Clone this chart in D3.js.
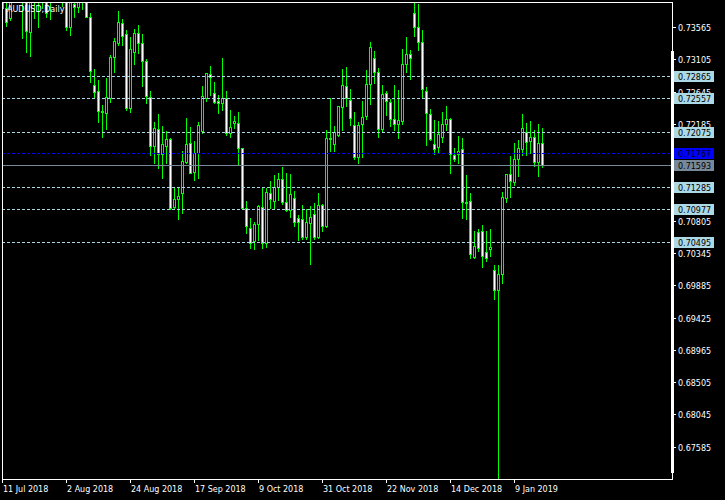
<!DOCTYPE html>
<html><head><meta charset="utf-8">
<script src="https://cdn.jsdelivr.net/npm/d3@7"></script>
<style>
html,body{margin:0;padding:0;background:#000;}
svg{display:block;}
text{font-family:"DejaVu Sans",sans-serif;font-size:8px;}
</style></head>
<body>
<div id="chart"></div>
<script>
// ---- data (AUDUSD daily, bar index 0 = 11 Jul 2018) ----
const open = [0.74164,0.73836,0.73694,0.74164,0.74378,0.74093,0.74021,0.73494,0.74021,0.74164,
0.73993,0.74093,0.73950,0.74064,0.74235,0.74093,0.73950,0.73561,0.73893,0.73850,
0.74021,0.74093,0.73703,0.72739,0.72653,0.72368,0.72344,0.72549,0.73133,0.73342,
0.73618,0.73461,0.72415,0.73205,0.73475,0.73333,0.73081,0.72572,0.71874,0.72108,
0.71751,0.71874,0.71965,0.71000,0.71110,0.71196,0.71646,0.71908,0.71503,0.71765,
0.72088,0.72549,0.72896,0.72620,0.72511,0.72478,0.72549,0.72050,0.72193,0.72193,
0.71837,0.70990,0.70697,0.70520,0.70754,0.70996,0.70483,0.71204,0.71090,0.71290,
0.71395,0.71076,0.70958,0.71124,0.70839,0.70825,0.70568,0.70777,0.70901,0.70577,
0.71029,0.70734,0.71965,0.71894,0.72026,0.72421,0.72725,0.72525,0.72169,0.71717,
0.72179,0.72301,0.72749,0.73119,0.72920,0.72112,0.72620,0.72492,0.72250,0.72183,
0.72230,0.73034,0.73176,0.73760,0.73561,0.73356,0.72658,0.72321,0.71894,0.71860,
0.72002,0.72179,0.72254,0.71741,0.71751,0.71822,0.71076,0.71086,0.70292,0.70640,
0.70658,0.70355,0.70398,0.70103,0.69818,0.70046,0.71124,0.71471,0.71361,0.71680,
0.71827,0.72073,0.71945,0.72002,0.71646,0.71908];
const high = [0.74306,0.74021,0.74306,0.74520,0.74520,0.74235,0.74164,0.74093,0.74378,0.74306,
0.74235,0.74207,0.74164,0.74378,0.74449,0.74235,0.74021,0.74064,0.74093,0.74164,
0.74306,0.74235,0.73775,0.72977,0.72820,0.72468,0.72848,0.73181,0.73427,0.73808,
0.73689,0.73532,0.73437,0.73547,0.73608,0.73475,0.73124,0.72668,0.72226,0.72335,
0.72169,0.72098,0.72002,0.71300,0.71290,0.71813,0.72278,0.72155,0.71955,0.72226,
0.72739,0.72917,0.73024,0.72796,0.72606,0.73142,0.72668,0.72397,0.72311,0.72368,
0.71855,0.71100,0.70862,0.70801,0.71043,0.71300,0.71281,0.71385,0.71471,0.71495,
0.71585,0.71503,0.71489,0.71243,0.70901,0.71043,0.70982,0.71029,0.71076,0.71210,
0.71053,0.72108,0.72563,0.72169,0.72454,0.72985,0.73014,0.72700,0.72368,0.72230,
0.72525,0.72967,0.73366,0.73238,0.73000,0.72753,0.72668,0.72549,0.72753,0.72682,
0.73262,0.73437,0.73247,0.73993,0.73912,0.73532,0.72725,0.72415,0.72254,0.72240,
0.72368,0.72454,0.72278,0.71860,0.72026,0.72002,0.71471,0.71210,0.70673,0.70697,
0.70758,0.70673,0.70705,0.70184,0.70184,0.71228,0.71489,0.71741,0.71927,0.71969,
0.72335,0.72216,0.72240,0.72108,0.72201,0.72145];
const low = [0.73641,0.73580,0.73665,0.74021,0.73993,0.73413,0.73213,0.73156,0.73698,0.73570,
0.73836,0.73703,0.73675,0.73993,0.73979,0.73865,0.73523,0.73455,0.73712,0.73783,
0.73817,0.73703,0.72786,0.72572,0.72216,0.72002,0.72112,0.72501,0.72928,0.73309,
0.73309,0.72383,0.72358,0.73038,0.73190,0.72725,0.72478,0.71741,0.71632,0.71552,
0.71418,0.71632,0.70967,0.70967,0.70829,0.70919,0.71623,0.71480,0.71385,0.71418,
0.72059,0.72511,0.72596,0.72478,0.72335,0.72383,0.72026,0.72002,0.72122,0.71599,
0.70967,0.70634,0.70412,0.70398,0.70530,0.70412,0.70435,0.70982,0.70967,0.71100,
0.71043,0.70948,0.70862,0.70730,0.70530,0.70540,0.70540,0.70188,0.70540,0.70554,
0.70663,0.70720,0.71803,0.71803,0.72012,0.72098,0.72440,0.72169,0.71680,0.71623,
0.71717,0.72254,0.72468,0.72763,0.72002,0.72065,0.72311,0.72155,0.72098,0.71979,
0.72183,0.72928,0.72820,0.73437,0.73238,0.72572,0.71884,0.71955,0.71756,0.71780,
0.71931,0.72098,0.71489,0.71656,0.71632,0.70848,0.70829,0.70278,0.70278,0.70378,
0.70150,0.70231,0.70302,0.69689,0.67080,0.69913,0.71067,0.71147,0.71314,0.71442,
0.71741,0.71741,0.71765,0.71585,0.71442,0.71575];
const close = [0.73836,0.73641,0.74164,0.74378,0.74093,0.73979,0.73513,0.74021,0.74164,0.73993,
0.74093,0.73760,0.74064,0.74235,0.74093,0.73950,0.73561,0.73993,0.73846,0.74021,
0.74093,0.73703,0.72943,0.72643,0.72373,0.72354,0.72563,0.73133,0.73361,0.73632,
0.73437,0.72415,0.73247,0.73475,0.73333,0.73085,0.72586,0.71874,0.72122,0.71751,
0.71894,0.71969,0.70990,0.71110,0.71157,0.71656,0.71894,0.71489,0.71765,0.72169,
0.72586,0.72905,0.72857,0.72501,0.72478,0.72549,0.72050,0.72136,0.72230,0.71837,
0.70990,0.70734,0.70492,0.70754,0.71015,0.70483,0.71218,0.71110,0.71290,0.71395,
0.71076,0.70958,0.71181,0.70791,0.70791,0.70577,0.70791,0.70853,0.70577,0.71029,
0.70734,0.71979,0.71988,0.72073,0.72440,0.72739,0.72549,0.72264,0.71709,0.72169,
0.72278,0.72749,0.73276,0.72920,0.72112,0.72606,0.72515,0.72250,0.72179,0.72240,
0.73034,0.73176,0.73119,0.73561,0.73356,0.72677,0.72335,0.71965,0.71822,0.72036,
0.72179,0.72250,0.71751,0.71684,0.71798,0.71067,0.71053,0.70326,0.70449,0.70412,
0.70302,0.70269,0.70426,0.69818,0.70046,0.71147,0.71471,0.71375,0.71680,0.71837,
0.72122,0.71931,0.71993,0.71646,0.71908,0.71593];

const dateTickIndex = [0,16,32,48,64,80,96,112,128];
const dateTickLabels = ["11 Jul 2018","2 Aug 2018","24 Aug 2018","17 Sep 2018","9 Oct 2018","31 Oct 2018","22 Nov 2018","14 Dec 2018","9 Jan 2019"];
const priceTicks = [0.73565,0.73105,0.72645,0.72185,0.71725,0.71265,0.70805,0.70345,0.69885,0.69425,0.68965,0.68505,0.68045,0.67585];
// tick labels hidden behind level labels in the reference
const hiddenTickLabels = [0.71725,0.71265];
const levelLines = [0.72865,0.72557,0.72075,0.71285,0.70977,0.70495];
const blueLevel = 0.71767;
const bidLevel = 0.71593;
const symbolTitle = "AUDUSD,Daily";

// ---- layout ----
const W = 725, H = 500;
const L = 2, T = 2, R = 672, B = 479;
const svg = d3.select("#chart").append("svg").attr("width", W).attr("height", H)
  .attr("shape-rendering","crispEdges");
svg.append("rect").attr("width", W).attr("height", H).attr("fill", "#000");

const x = d3.scaleLinear().domain([0, 128]).range([2, 514]);
const y = d3.scaleLinear().domain([0.67585, 0.73565]).range([446.7, 27]);
const py = v => Math.round(y(v)) + 0.5;

const defs = svg.append("defs");
defs.append("clipPath").attr("id","plotclip")
  .append("rect").attr("x", L).attr("y", T).attr("width", R - L).attr("height", B - T);

const plot = svg.append("g").attr("clip-path","url(#plotclip)");
const bars = d3.range(open.length).map(i => ({i, o: open[i], h: high[i], l: low[i], c: close[i]}));

plot.selectAll("line.wick").data(bars).join("line").attr("class","wick")
  .attr("x1", d => Math.round(x(d.i)) + 0.5).attr("x2", d => Math.round(x(d.i)) + 0.5)
  .attr("y1", d => py(d.h)).attr("y2", d => py(d.l))
  .attr("stroke", "#00ff00").attr("stroke-width", 1);

plot.selectAll("rect.body").data(bars).join("rect").attr("class","body")
  .attr("x", d => Math.round(x(d.i)) - 0.5)
  .attr("width", 2)
  .attr("y", d => py(Math.max(d.o, d.c)))
  .attr("height", d => Math.max(0, py(Math.min(d.o, d.c)) - py(Math.max(d.o, d.c))))
  .attr("fill", d => d.c < d.o ? "#ffffff" : "#000000")
  .attr("stroke", "#00ff00").attr("stroke-width", 1);

// horizontal level lines
plot.selectAll("line.level").data(levelLines).join("line").attr("class","level")
  .attr("x1", L).attr("x2", R).attr("y1", d => py(d)).attr("y2", d => py(d))
  .attr("stroke", "#add8e6").attr("stroke-dasharray", "3,2");
plot.append("line").attr("x1", L).attr("x2", R).attr("y1", py(blueLevel)).attr("y2", py(blueLevel))
  .attr("stroke", "#0000ff").attr("stroke-dasharray", "3,2");
plot.append("line").attr("x1", L).attr("x2", R).attr("y1", py(bidLevel)).attr("y2", py(bidLevel))
  .attr("stroke", "#778899");

// title
svg.append("text").attr("x", 7).attr("y", 12).attr("fill", "#fff").text(symbolTitle);

// frame
svg.append("rect").attr("x", L + 0.5).attr("y", T + 0.5).attr("width", R - L).attr("height", B - T)
  .attr("fill", "none").attr("stroke", "#fff");
svg.append("rect").attr("x", 671).attr("y", 51).attr("width", 3).attr("height", 422).attr("fill", "#fff");

// price axis
const labels = levelLines.map(v => ({v, bg: "#add8e6"}))
  .concat([{v: blueLevel, bg: "#0000ff"}, {v: bidLevel, bg: "#778899"}]);
const boxTop = v => Math.round(y(v)) - 5;

const yAxis = svg.append("g");
yAxis.selectAll("line").data(priceTicks).join("line")
  .attr("x1", R).attr("x2", R + 4).attr("y1", d => py(d)).attr("y2", d => py(d)).attr("stroke", "#fff");
const shownTicks = priceTicks.filter(t => !hiddenTickLabels.includes(t));
yAxis.selectAll("text").data(shownTicks).join("text")
  .attr("x", 678).attr("y", d => py(d) + 3).attr("fill", "#fff")
  .each(function(d) {
    // if a level label box covers the lower part of this tick label, clip it there
    const cover = labels.find(lb => boxTop(lb.v) > py(d) - 6 && boxTop(lb.v) < py(d) + 4);
    if (cover) {
      const id = "clipTick" + String(d).replace(".", "");
      defs.append("clipPath").attr("id", id).append("rect")
        .attr("x", 674).attr("y", py(d) - 10).attr("width", 51).attr("height", boxTop(cover.v) - (py(d) - 10));
      d3.select(this).attr("clip-path", `url(#${id})`);
    }
  })
  .text(d => d.toFixed(5));

// level labels
const lg = svg.append("g").selectAll("g").data(labels).join("g");
lg.append("rect").attr("x", 674).attr("y", d => boxTop(d.v)).attr("width", 40).attr("height", 11)
  .attr("fill", d => d.bg);
lg.append("text").attr("x", 678).attr("y", d => py(d.v) + 3).attr("fill", "#000").text(d => d.v.toFixed(5));

// date axis
const xAxis = svg.append("g");
xAxis.selectAll("line").data(dateTickIndex).join("line")
  .attr("x1", d => Math.round(x(d)) + 0.5).attr("x2", d => Math.round(x(d)) + 0.5)
  .attr("y1", B).attr("y2", B + 4).attr("stroke", "#fff");
xAxis.selectAll("text").data(dateTickIndex).join("text")
  .attr("x", d => Math.round(x(d)) + 1).attr("y", 492).attr("fill", "#fff")
  .text((d, k) => dateTickLabels[k]);
</script>
</body></html>
